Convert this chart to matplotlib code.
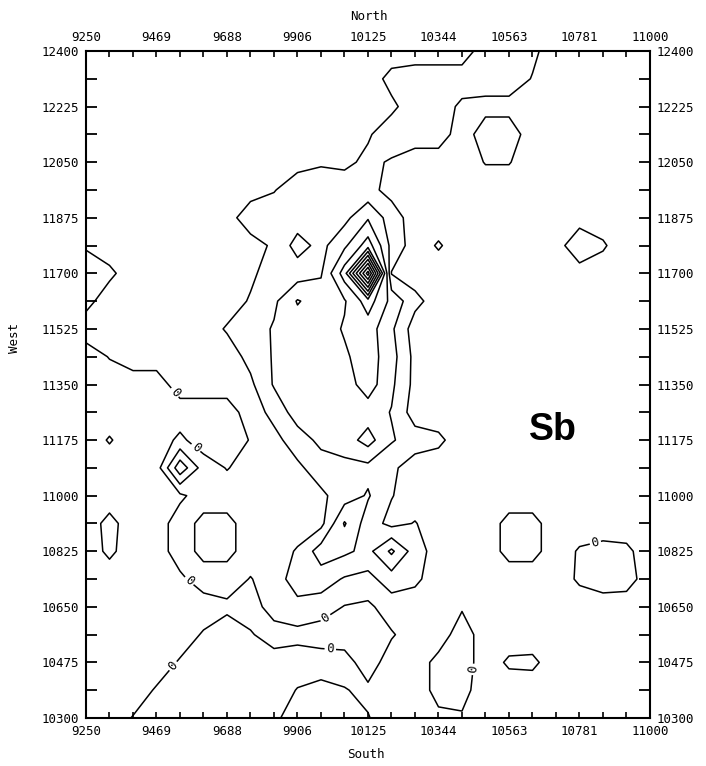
import matplotlib
matplotlib.use('Agg')
import matplotlib.pyplot as plt
import numpy as np

plt.rcParams['font.family'] = ['DejaVu Sans Mono']

# survey grid: easting along North/South edges, northing along West edge
east = np.linspace(9250, 11000, 25)
north = np.linspace(10300, 12400, 25)

# Sb contour field, one list per grid row, top row = 12400
sb_rows = [
    [1,1,1,1,1,1,1,1,1,1,1,1,1,1,1,1,1,2,2,1.7,1,1,1,1,1],
    [1,1,1,1,1,1,1,1,1,1,1,1,1,1.8,2,2,2,2,2,1.45,1,1,1,1,1],
    [1,1,1,1,1,1,1,1,1,1,1,1,1,1.3,2,2,1.3,1.2,1.2,1,1,1,1,1,1],
    [1,1,1,1,1,1,1,1,1,1,1,1,1.4,2,2,2,1,2,2,1,1,1,1,1,1],
    [1,1,1,1,1,1,1,1,1,1.2,1.4,1.3,1.7,1.41,1,1,1,1.55,1.55,1,1,1,1,1,1],
    [1,1,1,1,1,1,1,1,1.45,2,2,2,1.8,1.17,1,1,1,1,1,1,1,1,1,1,1],
    [1,1,1,1,1,1,1,2.2,2,2,2,2.2,3.4,2.0,1,1,1,1,1,1,1,1.2,1.1,1,1],
    [0.6,1,1,1,1,1,1,1,1.7,2.88,2.2,3.3,5.0,2.2,1,1.6,1,1,1,1,1.2,2.0,1.6,1,1],
    [0,0.3,1,1,1,1,1,1.3,2,2,2.4,5.0,12,1.45,1,1,1,1,1,1,1,1.2,1.1,1,1],
    [0.2,1,1,1,1,1,1,1.6,2.3,3.58,3.0,3.4,5.0,3.2,1.8,1,1,1,1,1,1,1,1,1,1],
    [1,1,1,1,1,1,1.6,2,2.6,3,3,3.6,4.0,2.68,1,1,1,1,1,1,1,1,1,1,1],
    [0,0.55,1,1,1,1,1,1.8,2.6,3,3,3.35,4.0,2.9,1.2,1,1,1,1,1,1,1,1,1,1],
    [0,0,0,0,1,1,1,1.3,2.6,3,3,3,4.0,2.7,1.2,1,1,1,1,1,1,1,1,1,1],
    [0,0,0,0,0,0,0,1,1.8,3,3,3,3.0,2.45,1,1,1,1,1,1,1,1,1,1,1],
    [0,0.58,0,0,0.7,0,0,0.55,1.2,2,2.76,3,3.9,2.6,2,1.7,1,1,1,1,1,1,1,1,1],
    [0,0,0,0,3.2,1,0.45,0.9,1,1.3,2,2.2,2.2,1.7,1,1,1,1,1,1,1,1,1,1,1],
    [0,0,0,0,0.3,1,1,1,1,1,1.3,2,2.6,1.55,1,1,1,1,1,1,1,1,1,1,1],
    [0,0.8,0,0,1,1.8,1.8,1,1,1,1.2,3.6,2.0,1.2,1.55,1,1,1,0.2,0.2,1,1,1,1,1],
    [0,0.7,0,0,1,1.8,1.8,1,1,1.6,3.0,2.7,2.2,3.7,2.0,1,1,1,0.2,0.2,1,0.4,0.2,0.3,1],
    [0,0,0,0,0.3,1,1,0.45,1,2,2,1.4,1.2,2,1.7,1,1,1,1,1,1,0.35,0,0.1,1],
    [0,0,0,0,0,0,0.3,0,1,1.2,1,0.45,0.3,1,1,1,0.6,1,1,1,1,1,1,1,1],
    [0,0,0,0,0,0.6,1,0.6,0,0.2,0,0,0,0.4,1,1,0,1,1,1,1,1,1,1,1],
    [0,0,0,0,0.6,1,1,1,1,1,1,0.9,0,1,1,0.2,0,1,0.35,0.3,1,1,1,1,1],
    [0,0,0,0.6,1,1,1,1,1,0.45,0.2,0.45,0.7,1,1,0.2,0.2,1,1,1,1,1,1,1,1],
    [0,0,0.55,1,1,1,1,1,0.7,0,0,0,0.45,1,1,0.7,0.6,1,1,1,1,1,1,1,1],
]
sb = np.array(sb_rows[::-1])

levels = np.arange(0.5, 12, 1.0)

x_labels = ['9250', '9469', '9688', '9906', '10125', '10344', '10563', '10781', '11000']
y_labels = ['10300', '10475', '10650', '10825', '11000', '11175', '11350',
            '11525', '11700', '11875', '12050', '12225', '12400']

# where the "0" contour labels sit
zero_spots = [(9520, 11320), (9588, 11147), (9573, 10735), (9985, 10628),
              (10007, 10502), (9520, 10464), (10470, 10451), (10830, 10854)]

fig = plt.figure(figsize=(7.06, 7.66), dpi=100)
ax = fig.add_axes([86/706, 1 - 718/766, 564/706, 667/766])

cs = ax.contour(east, north, sb, levels=levels, colors='black', linewidths=1.1)
ax.clabel(cs, levels=[levels[0]], fmt=lambda v: '0', manual=zero_spots,
          inline=True, inline_spacing=2, fontsize=9)

ax.set_xlim(9250, 11000)
ax.set_ylim(10300, 12400)
ax.set_xticks(np.linspace(9250, 11000, len(x_labels)))
ax.set_xticklabels(x_labels)
ax.set_xticks(east, minor=True)
ax.set_yticks(np.linspace(10300, 12400, len(y_labels)))
ax.set_yticklabels(y_labels)
ax.set_yticks(np.linspace(10300, 12400, 25), minor=True)

ax.tick_params(axis='x', which='both', direction='in', length=4, width=1.2,
               top=True, bottom=True, labeltop=True, labelbottom=True,
               labelsize=9, pad=5)
ax.tick_params(axis='y', which='both', direction='in', length=8, width=1.3,
               left=True, right=True, labelleft=True, labelright=True,
               labelsize=9, pad=5)
for s in ax.spines.values():
    s.set_linewidth(1.5)

fig.text(369/706, 1 - 16/766, 'North', ha='center', va='center', fontsize=9)
fig.text(366/706, 1 - 754/766, 'South', ha='center', va='center', fontsize=9)
fig.text(14/706, 1 - 338/766, 'West', ha='center', va='center', fontsize=9, rotation=90)

ax.text(0.828, 0.432, 'Sb', transform=ax.transAxes, ha='center', va='center',
        fontsize=27, fontweight='bold', family='Liberation Sans')

fig.savefig('out.png', dpi=100)
